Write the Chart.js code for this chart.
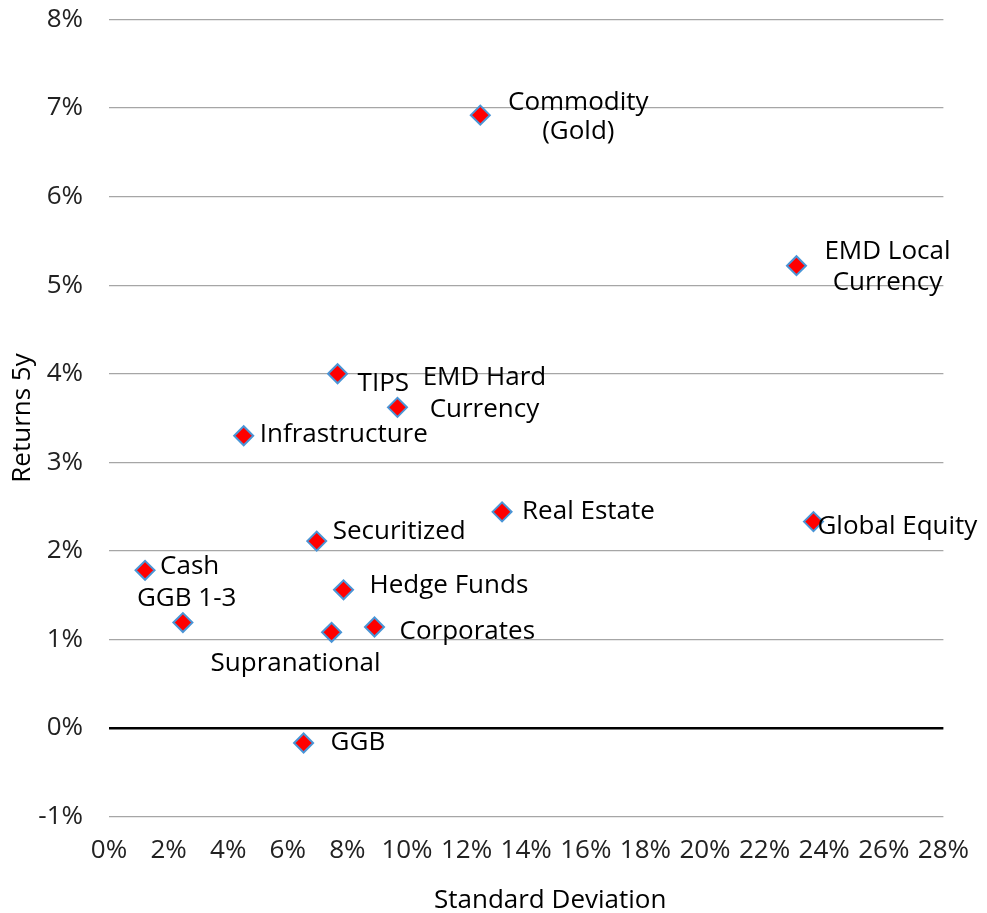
<!DOCTYPE html>
<html>
<head>
<meta charset="utf-8">
<script src="https://cdn.jsdelivr.net/npm/chart.js@4.4.1/dist/chart.umd.min.js"></script>
<style>
    html, body { margin: 0; padding: 0; background: #fff; }
    #wrap { width: 987px; height: 913px; }
</style>
</head>
<body>
<div id="wrap"><canvas id="mainChart"></canvas></div>
<script>
// -----------------------------
// data
// -----------------------------
const assetNames = [
    "Commodity\n(Gold)", "EMD Local\nCurrency", "TIPS", "EMD Hard\nCurrency",
    "Infrastructure", "Real Estate", "Global Equity", "Securitized", "Cash",
    "Hedge Funds", "GGB 1-3", "Corporates", "Supranational", "GGB"
];
const stdDev    = [12.46, 23.07, 7.67, 9.68, 4.52, 13.19, 23.64, 6.97, 1.21, 7.87, 2.48, 8.91, 7.47, 6.53];
const returns5y = [6.92, 5.22, 4.00, 3.62, 3.30, 2.44, 2.33, 2.11, 1.78, 1.56, 1.19, 1.14, 1.08, -0.17];

const xTickValues = [0, 2, 4, 6, 8, 10, 12, 14, 16, 18, 20, 22, 24, 26, 28];
const yTickValues = [-1, 0, 1, 2, 3, 4, 5, 6, 7, 8];

// label placement next to each marker (style only)
const labelPlace = [
    { align: "center", dx: 98, dy: -13, lh: 29 },
    { align: "center", dx: 91, dy: -14, lh: 31 },
    { align: "left",   dx: 20, dy: 10 },
    { align: "center", dx: 87, dy: -30, lh: 32 },
    { align: "left",   dx: 16, dy: -1 },
    { align: "left",   dx: 20, dy: 0 },
    { align: "left",   dx: 4,  dy: 5 },
    { align: "left",   dx: 16, dy: -9 },
    { align: "left",   dx: 15, dy: -4 },
    { align: "left",   dx: 26, dy: -4 },
    { align: "left",   dx: -46, dy: -24 },
    { align: "left",   dx: 25, dy: 5 },
    { align: "center", dx: -36, dy: 31 },
    { align: "left",   dx: 27, dy: 0 }
];

const FONT = "'Open Sans', 'Noto Sans', sans-serif";
const FSIZE = 26;

const pointLabels = {
    id: "pointLabels",
    afterDatasetsDraw(chart) {
        const ctx = chart.ctx;
        const meta = chart.getDatasetMeta(0);
        ctx.save();
        ctx.font = FSIZE + "px " + FONT;
        ctx.fillStyle = "#000";
        ctx.textBaseline = "middle";
        meta.data.forEach((pt, i) => {
            const p = labelPlace[i];
            ctx.textAlign = p.align;
            assetNames[i].split("\n").forEach((line, k) => {
                ctx.fillText(line, pt.x + p.dx, pt.y + p.dy + k * (p.lh || 0));
            });
        });
        ctx.restore();
    }
};

// x title sits a bit right of the plot centre in the original
const xTitle = {
    id: "xTitle",
    afterDraw(chart) {
        const ctx = chart.ctx;
        const area = chart.chartArea;
        ctx.save();
        ctx.font = FSIZE + "px " + FONT;
        ctx.fillStyle = "#000";
        ctx.textAlign = "center";
        ctx.textBaseline = "middle";
        ctx.fillText("Standard Deviation", (area.left + area.right) / 2 + 24, 901);
        ctx.restore();
    }
};

new Chart(document.getElementById("mainChart"), {
    type: "scatter",
    data: {
        datasets: [{
            label: "Returns 5y",
            data: stdDev.map((x, i) => ({ x: x, y: returns5y[i] })),
            pointStyle: "rectRot",
            pointRadius: 9.5,
            pointHoverRadius: 9.5,
            backgroundColor: "#ff0000",
            borderColor: "#4a95d6",
            borderWidth: 2
        }]
    },
    options: {
        responsive: true,
        maintainAspectRatio: false,
        animation: false,
        layout: { padding: { top: 19.5, right: 42, bottom: 0, left: 0 } },
        plugins: {
            legend: { display: false },
            tooltip: { enabled: false }
        },
        scales: {
            x: {
                type: "linear",
                min: 0,
                max: 28,
                afterBuildTicks: s => { s.ticks = xTickValues.map(v => ({ value: v })); },
                afterFit: s => { s.height = 96.5; },
                grid: { display: false, drawTicks: false },
                border: { display: false },
                ticks: {
                    autoSkip: false,
                    maxRotation: 0,
                    padding: 18,
                    color: "#222",
                    font: { family: FONT, size: FSIZE },
                    callback: v => v + "%"
                }
            },
            y: {
                type: "linear",
                min: -1,
                max: 8,
                afterBuildTicks: s => { s.ticks = yTickValues.map(v => ({ value: v })); },
                afterFit: s => {
                    s.width = 109;
                    s.paddingTop = 0;
                    s.paddingBottom = 0;
                },
                grid: {
                    drawTicks: false,
                    color: c => c.tick && c.tick.value === 0 ? "#000" : "#a6a6a6",
                    lineWidth: c => c.tick && c.tick.value === 0 ? 2.5 : 1.2
                },
                border: { display: false },
                ticks: {
                    padding: 26,
                    color: "#222",
                    font: { family: FONT, size: FSIZE },
                    callback: v => v + "%"
                },
                title: {
                    display: true,
                    text: "Returns 5y",
                    color: "#000",
                    padding: { top: 7, bottom: 0 },
                    font: { family: FONT, size: FSIZE }
                }
            }
        }
    },
    plugins: [pointLabels, xTitle]
});
</script>
</body>
</html>
